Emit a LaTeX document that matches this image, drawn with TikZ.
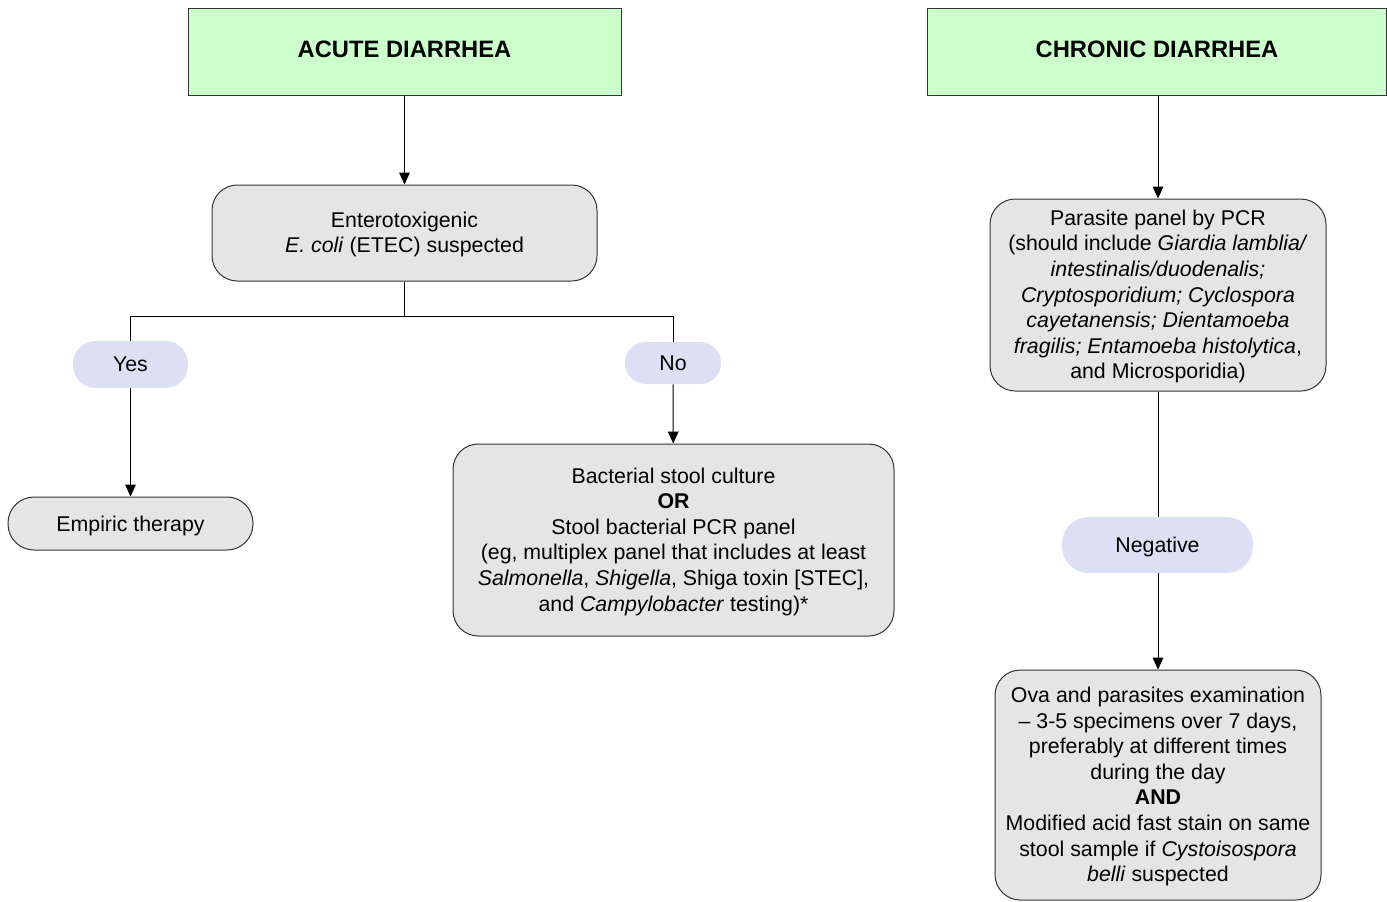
\documentclass[tikz,border=0pt]{standalone}
\usepackage{fontspec}
\setmainfont{Liberation Sans}
\usetikzlibrary{arrows.meta}
\definecolor{titlegreen}{HTML}{CCFFCC}
\definecolor{boxgray}{HTML}{E5E5E5}
\definecolor{pill}{HTML}{DDE0F4}
\definecolor{edge}{HTML}{333333}
\newcommand{\shifttext}[2]{\raisebox{#1}[\height][\depth]{\begin{tabular}{@{}c@{}}#2\end{tabular}}}
\tikzset{
  base/.style={align=center, inner sep=0pt, font=\fontsize{16}{19.2}\selectfont},
  titlebox/.style={base, draw=edge, line width=0.75pt, fill=titlegreen, font=\fontsize{17.8}{21}\selectfont\bfseries},
  graybox/.style={base, draw=edge, line width=0.75pt, fill=boxgray, rounded corners=19pt},
  pillbox/.style={base, fill=pill},
  conn/.style={line width=0.75pt, black},
  arr/.style={conn, -{Triangle[length=9pt,width=8pt]}}
}
\begin{document}
\begin{tikzpicture}[x=0.75pt,y=-0.75pt]
\useasboundingbox (0,0) rectangle (1387,901);
% titles
\node[titlebox, minimum width=433*0.75pt, minimum height=87*0.75pt] (acute) at (404.5,51.5) {\shifttext{0pt}{ACUTE DIARRHEA}};
\node[titlebox, minimum width=459*0.75pt, minimum height=87*0.75pt] (chronic) at (1157,51.5) {\shifttext{0pt}{CHRONIC DIARRHEA}};
% acute branch
\node[graybox, minimum width=385*0.75pt, minimum height=96*0.75pt] (etec) at (404.5,233) {\shifttext{-1.5pt}{Enterotoxigenic\\\textit{E. coli} (ETEC) suspected}};
\node[pillbox, rounded corners=17pt, minimum width=115*0.75pt, minimum height=47*0.75pt] (yes) at (130.5,364.5) {Yes};
\node[pillbox, rounded corners=15.5pt, minimum width=96*0.75pt, minimum height=42*0.75pt] (no) at (673,363) {No};
\node[graybox, rounded corners=19.5pt, minimum width=245*0.75pt, minimum height=53*0.75pt] (empiric) at (130.5,523.5) {\shifttext{-2pt}{Empiric therapy}};
\node[graybox, minimum width=441*0.75pt, minimum height=192*0.75pt] (bact) at (673.5,540) {\shifttext{-1.5pt}{Bacterial stool culture\\\textbf{OR}\\Stool bacterial PCR panel\\(eg, multiplex panel that includes at least\\\textit{Salmonella}, \textit{Shigella}, Shiga toxin [STEC],\\and \textit{Campylobacter} testing)*}};
% chronic branch
\node[graybox, minimum width=336*0.75pt, minimum height=192*0.75pt] (parasite) at (1158,295) {\shifttext{-1.5pt}{Parasite panel by PCR\\(should include \textit{Giardia lamblia/}\\\textit{intestinalis/duodenalis;}\\\textit{Cryptosporidium; Cyclospora}\\\textit{cayetanensis; Dientamoeba}\\\textit{fragilis; Entamoeba histolytica},\\and Microsporidia)}};
\node[pillbox, rounded corners=20pt, minimum width=191*0.75pt, minimum height=56*0.75pt] (negative) at (1157.5,545) {\shifttext{-1.5pt}{Negative}};
\node[graybox, minimum width=326*0.75pt, minimum height=230*0.75pt] (ova) at (1158,785) {\shifttext{-1.5pt}{Ova and parasites examination\\\textendash{} 3-5 specimens over 7 days,\\preferably at different times\\during the day\\\textbf{AND}\\Modified acid fast stain on same\\stool sample if \textit{Cystoisospora}\\\textit{belli} suspected}};
% connectors
\coordinate (split) at (404.5,316);
\draw[arr] (acute) -- (etec);
\draw[conn] (etec) -- (split);
\draw[conn] (split) -| (yes);
\draw[conn] (split) -| (no);
\draw[arr] (yes) -- (empiric);
\draw[arr] (no) -- (bact);
\draw[arr] (parasite.north |- chronic.south) -- (parasite.north);
\draw[conn] (parasite) -- (parasite.south |- negative.north);
\draw[arr] (negative.south -| ova.north) -- (ova.north);
\end{tikzpicture}
\end{document}
